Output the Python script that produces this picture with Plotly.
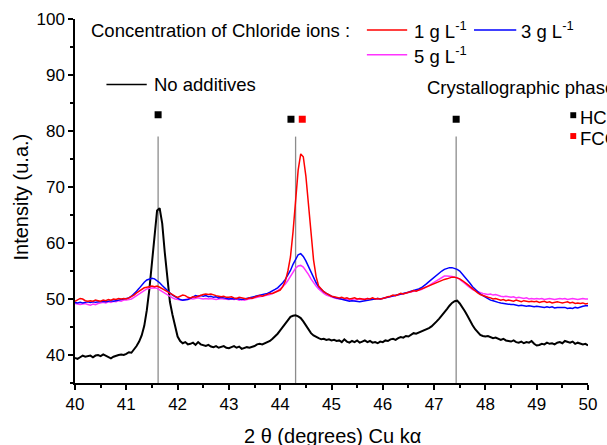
import numpy as np
import plotly.graph_objects as go

# 2-theta sampling (degrees), 0.05 deg step from 40 to 50
two_theta = np.round(np.arange(201) * 0.05 + 40.0, 2)

# Intensities (u.a.), ten points per 0.5 deg row, last value at 50.00
no_additives = [
    39.5, 39.3, 39.6, 39.9, 39.7, 39.8, 39.9, 39.6, 39.9, 40.0,
    39.8, 40.1, 39.9, 39.6, 39.4, 39.7, 39.9, 40.0, 40.1, 40.0,
    40.2, 40.5, 40.4, 40.9, 41.6, 42.4, 43.5, 45.2, 48.0, 51.8,
    56.5, 61.5, 65.8, 66.2, 63.5, 58.3, 53.2, 49.5, 47.2, 45.0,
    43.3, 42.5, 42.1, 42.3, 41.9, 42.0, 42.2, 41.8, 42.3, 41.9,
    41.7, 41.6, 41.8, 41.5, 41.4, 41.6, 41.3, 41.4, 41.6, 41.3,
    41.2, 41.4, 41.6, 41.3, 41.5, 41.1, 41.2, 41.4, 41.3, 41.4,
    41.6, 41.9, 42.0, 41.9, 42.1, 42.2, 42.5, 42.9, 43.3, 43.8,
    44.4, 45.0, 45.6, 46.2, 46.8, 47.0, 47.1, 46.9, 46.6, 46.0,
    45.3, 44.6, 43.9, 43.5, 43.2, 43.0, 42.8, 42.9, 42.7, 42.8,
    42.6, 42.7, 42.5, 42.6, 42.3, 42.8, 42.4, 42.2, 42.5, 42.3,
    42.6, 42.2, 42.4, 42.6, 42.3, 42.5, 42.2, 42.3, 42.1, 42.4,
    42.3, 42.6, 42.5, 42.8, 42.9, 42.7, 43.0, 43.2, 43.1, 43.4,
    43.3, 43.6, 43.9, 43.8, 44.0, 44.2, 44.3, 44.6, 44.8, 45.1,
    45.5, 46.0, 46.5, 47.0, 47.6, 48.2, 48.8, 49.3, 49.6, 49.7,
    49.2, 48.6, 47.8, 47.0, 46.1, 45.3, 44.6, 44.0, 43.6, 43.4,
    43.3, 43.4, 43.2, 43.0, 43.1, 42.9, 42.7, 42.9, 42.6, 42.5,
    42.4, 42.6, 42.3, 42.2, 42.4, 42.1, 42.3, 42.2, 42.5, 42.0,
    41.7, 41.8, 42.0, 41.9, 42.2, 42.0, 42.1, 41.9, 42.2, 42.3,
    42.1, 42.5, 42.3, 42.2, 42.4, 42.0, 42.2, 42.1, 41.9, 42.0,
    41.7,
]

chloride_1 = [
    49.6, 49.8, 50.1, 50.0, 49.7, 49.6, 49.7, 49.6, 49.8, 49.7,
    49.6, 49.8, 49.7, 49.9, 49.8, 50.0, 49.9, 50.1, 50.0, 50.1,
    50.0, 50.2, 50.4, 50.7, 51.1, 51.4, 51.8, 52.0, 52.1, 52.2,
    52.3, 52.2, 52.3, 52.1, 51.9, 51.6, 51.3, 51.0, 50.7, 50.5,
    50.3, 50.5, 50.7, 50.6, 50.3, 50.2, 50.4, 50.3, 50.5, 50.6,
    50.8, 50.9, 50.8, 50.9, 50.7, 50.6, 50.5, 50.4, 50.5, 50.3,
    50.3, 50.4, 50.2, 50.1, 50.3, 50.2, 50.1, 50.0, 50.2, 50.1,
    50.3, 50.4, 50.6, 50.5, 50.7, 50.8, 51.0, 51.0, 51.2, 51.4,
    51.6, 52.2, 53.2, 55.0, 57.5, 62.0, 68.0, 73.0, 75.9, 75.4,
    72.0, 66.5, 61.5, 57.0, 54.0, 52.3, 51.8, 51.3, 51.0, 50.7,
    50.5, 50.4, 50.3, 50.2, 50.3, 50.1, 50.2, 50.0, 50.1, 50.2,
    50.0, 50.1, 50.0, 49.9, 50.1, 50.0, 50.2, 50.0, 50.1, 50.0,
    50.1, 50.3, 50.4, 50.5, 50.7, 50.6, 50.8, 51.0, 50.9, 51.1,
    51.2, 51.3, 51.5, 51.4, 51.6, 51.8, 51.9, 52.1, 52.3, 52.5,
    52.7, 52.9, 53.1, 53.3, 53.5, 53.6, 53.8, 53.9, 53.9, 53.8,
    53.6, 53.3, 53.0, 52.6, 52.2, 51.8, 51.4, 51.1, 50.8, 50.6,
    50.4, 50.3, 50.2, 50.0, 50.1, 49.9, 49.8, 49.9, 49.7, 49.8,
    49.7, 49.6, 49.8, 49.6, 49.5, 49.7, 49.6, 49.5, 49.6, 49.5,
    49.6, 49.4, 49.5, 49.6, 49.4, 49.5, 49.3, 49.4, 49.5, 49.4,
    49.3, 49.4, 49.5, 49.3, 49.4, 49.2, 49.3, 49.2, 49.3, 49.1,
    49.2,
]

chloride_3 = [
    49.4, 49.3, 49.4, 49.3, 49.4, 49.5, 49.4, 49.5, 49.4, 49.5,
    49.5, 49.6, 49.5, 49.6, 49.7, 49.6, 49.7, 49.8, 49.8, 49.9,
    50.0, 50.2, 50.5, 50.9, 51.4, 51.9, 52.5, 53.0, 53.4, 53.6,
    53.7, 53.6, 53.3, 52.9, 52.4, 51.9, 51.5, 51.1, 50.7, 50.4,
    50.1, 49.9, 49.8, 49.8, 49.9, 50.1, 50.4, 50.6, 50.5, 50.6,
    50.5, 50.6, 50.4, 50.5, 50.3, 50.4, 50.2, 50.3, 50.2, 50.1,
    50.0, 50.1, 50.0, 50.1, 50.0, 49.9, 50.0, 50.1, 50.2, 50.3,
    50.4, 50.5, 50.6, 50.7, 50.8, 51.0, 51.2, 51.4, 51.7, 52.0,
    52.4, 52.9, 53.5, 54.2, 55.1, 56.2, 57.2, 57.9, 58.1, 57.6,
    56.8, 55.8, 54.8, 53.8, 52.9, 52.2, 51.7, 51.3, 51.0, 50.7,
    50.5, 50.3, 50.2, 50.0, 49.9, 49.8, 49.7, 49.6, 49.7, 49.6,
    49.6, 49.5, 49.6, 49.7, 49.8, 49.9, 50.0, 50.0, 50.1, 50.0,
    50.1, 50.2, 50.3, 50.4, 50.5, 50.6, 50.7, 50.9, 51.0, 51.1,
    51.2, 51.4, 51.5, 51.6, 51.8, 52.0, 52.3, 52.7, 53.1, 53.5,
    53.9, 54.3, 54.7, 55.0, 55.3, 55.5, 55.6, 55.6, 55.5, 55.3,
    55.0, 54.5, 54.0, 53.4, 52.8, 52.2, 51.7, 51.3, 50.9, 50.6,
    50.3, 50.0, 49.8, 49.7, 49.5, 49.4, 49.3, 49.2, 49.1, 49.1,
    49.0, 49.0, 48.9, 48.8, 48.9, 48.8, 48.7, 48.8, 48.7, 48.6,
    48.7, 48.6, 48.6, 48.5, 48.6, 48.5, 48.6, 48.4, 48.5, 48.5,
    48.4, 48.5, 48.3, 48.4, 48.3, 48.5, 48.4, 48.6, 48.7, 48.8,
    48.8,
]

chloride_5 = [
    49.2, 49.1, 49.0, 49.1, 49.2, 49.0, 48.9, 49.1, 49.0, 49.2,
    49.3, 49.4, 49.3, 49.5, 49.4, 49.6, 49.5, 49.7, 49.6, 49.8,
    49.8, 49.9, 50.0, 50.3, 50.6, 50.9, 51.3, 51.6, 51.8, 51.9,
    52.0, 52.0, 51.9, 51.6, 51.3, 51.0, 50.7, 50.4, 50.2, 50.0,
    49.9, 49.8, 49.8, 49.9, 50.0, 50.1, 50.0, 50.1, 50.2, 50.1,
    50.0, 50.1, 50.0, 50.1, 50.0, 49.9, 50.0, 50.1, 50.0, 49.9,
    49.9, 50.0, 49.9, 50.0, 49.8, 49.9, 49.8, 49.9, 50.0, 50.0,
    50.1, 50.2, 50.3, 50.4, 50.5, 50.6, 50.8, 51.0, 51.2, 51.5,
    51.8, 52.2, 52.7, 53.3, 54.0, 54.8, 55.5, 55.9, 56.0, 55.7,
    55.1, 54.4, 53.6, 52.9, 52.3, 51.8, 51.3, 51.0, 50.7, 50.5,
    50.4, 50.2, 50.1, 50.0, 49.9, 49.9, 50.0, 49.8, 49.9, 49.8,
    49.9, 50.0, 49.9, 50.0, 50.1, 50.0, 50.1, 50.0, 50.1, 50.0,
    50.1, 50.2, 50.3, 50.4, 50.5, 50.6, 50.7, 50.8, 50.9, 51.0,
    51.1, 51.2, 51.3, 51.4, 51.5, 51.7, 51.9, 52.1, 52.4, 52.7,
    53.0, 53.3, 53.6, 53.9, 54.1, 54.1, 54.1, 54.0, 53.9, 53.8,
    53.5, 53.2, 52.8, 52.4, 52.0, 51.7, 51.5, 51.3, 51.1, 51.0,
    50.9, 50.8, 50.9, 50.7, 50.8, 50.6, 50.5, 50.4, 50.5, 50.4,
    50.3, 50.4, 50.2, 50.3, 50.2, 50.1, 50.2, 50.0, 50.1, 50.0,
    50.1, 50.0, 50.1, 49.9, 50.0, 50.1, 50.0, 49.9, 50.0, 50.1,
    50.0, 50.1, 49.9, 50.0, 50.1, 50.0, 49.9, 50.0, 50.1, 50.0,
    50.0,
]

# Reference reflections (2-theta positions of the drop lines) and phase marks
ref_lines = [41.62, 44.30, 47.43]
ref_line_top = 79.0
hc_x = [41.62, 44.21, 47.43]
hc_y = [82.9, 82.1, 82.1]
fc_x = [44.43]
fc_y = [82.1]

FONT = "Liberation Sans, Arial, sans-serif"
GRAY = "#8c8c8c"
RED = "#ff0000"
BLUE = "#0000ff"
MAGENTA = "#ff33ff"
LEG = 18.5   # legend / label text size

fig = go.Figure()

for xv in ref_lines:
    fig.add_trace(go.Scatter(x=[xv, xv], y=[35, ref_line_top], mode="lines",
                             line=dict(color=GRAY, width=1.3),
                             showlegend=False, hoverinfo="skip"))

fig.add_trace(go.Scatter(x=two_theta, y=no_additives, mode="lines",
                         line=dict(color="black", width=2), name="No additives"))
fig.add_trace(go.Scatter(x=two_theta, y=chloride_5, mode="lines",
                         line=dict(color=MAGENTA, width=1.5), name="5 g L-1"))
fig.add_trace(go.Scatter(x=two_theta, y=chloride_3, mode="lines",
                         line=dict(color=BLUE, width=1.5), name="3 g L-1"))
fig.add_trace(go.Scatter(x=two_theta, y=chloride_1, mode="lines",
                         line=dict(color=RED, width=1.5), name="1 g L-1"))

fig.add_trace(go.Scatter(x=hc_x, y=hc_y, mode="markers",
                         marker=dict(symbol="square", size=7, color="black"),
                         showlegend=False))
fig.add_trace(go.Scatter(x=fc_x, y=fc_y, mode="markers",
                         marker=dict(symbol="square", size=7, color=RED),
                         showlegend=False))

# plot area in pixels: x 75..597, y 16..383
L, R, T, B = 75, 597, 16, 383


def px(x):
    return (x - L) / (R - L)


def py(y):
    return (B - y) / (B - T)


def text(x, y, s, size=LEG, anchor="left", angle=0):
    fig.add_annotation(x=px(x), y=py(y), xref="paper", yref="paper", text=s,
                       showarrow=False, xanchor=anchor, yanchor="middle",
                       textangle=angle, font=dict(family=FONT, size=size, color="black"))


def sample(x0, x1, y, color):
    fig.add_shape(type="line", xref="paper", yref="paper",
                  x0=px(x0), x1=px(x1), y0=py(y), y1=py(y),
                  line=dict(color=color, width=1.5))


def square(x, y, color):
    fig.add_shape(type="rect", xref="paper", yref="paper",
                  x0=px(x - 3), x1=px(x + 3), y0=py(y - 3), y1=py(y + 3),
                  line=dict(width=0), fillcolor=color)


# legend block
text(89, 28, "Concentration of Chloride ions :")
sample(372, 413, 27, RED)
text(418, 27, "1 g L<sup>-1</sup>")
sample(481, 524, 27, BLUE)
text(527, 27, "3 g L<sup>-1</sup>")
sample(372, 413, 52, MAGENTA)
text(418, 52, "5 g L<sup>-1</sup>")
sample(107, 148, 82, "black")
text(153, 82, "No additives")
text(431, 85, "Crystallographic phases :")
square(582, 113, "black")
text(587, 115, "HCP")
square(582, 134, RED)
text(587, 136, "FCC")

# axis titles
text(20, 195, "Intensity (u.a.)", size=20, anchor="center", angle=-90)
text(337, 436, "2 θ (degrees) Cu kα", size=20, anchor="center")

axis_common = dict(showline=True, linecolor="black", linewidth=1.5,
                   ticks="outside", ticklen=5, tickwidth=1.5, tickcolor="black",
                   showgrid=False, zeroline=False,
                   tickfont=dict(family=FONT, size=17, color="black"))

fig.update_xaxes(range=[40, 50], dtick=1, tick0=40,
                 minor=dict(ticks="outside", ticklen=3, tickwidth=1.5,
                            tickcolor="black", dtick=0.5, showgrid=False),
                 **axis_common)
fig.update_yaxes(range=[35, 100], dtick=10, tick0=40,
                 minor=dict(ticks="outside", ticklen=3, tickwidth=1.5,
                            tickcolor="black", dtick=5, tick0=35, showgrid=False),
                 **axis_common)

fig.update_layout(width=607, height=445,
                  margin=dict(l=L, r=607 - R, t=T, b=445 - B),
                  paper_bgcolor="white", plot_bgcolor="white",
                  showlegend=False, font=dict(family=FONT))

fig.write_html("out.html")
